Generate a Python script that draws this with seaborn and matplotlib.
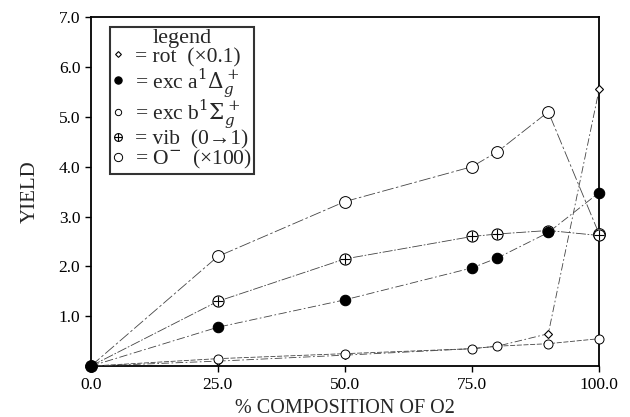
import matplotlib
matplotlib.use("Agg")
import matplotlib.pyplot as plt
import matplotlib.lines as mlines
from matplotlib.legend_handler import HandlerTuple
import seaborn as sns
import pandas as pd

composition = [0, 25, 50, 75, 80, 90, 100]
rot = [0, 0.10, 0.22, 0.35, 0.40, 0.65, 5.55]
exc_a = [0, 0.78, 1.33, 1.97, 2.17, 2.68, 3.48]
exc_b = [0, 0.15, 0.25, 0.35, 0.40, 0.45, 0.55]
vib = [0, 1.30, 2.15, 2.60, 2.65, 2.72, 2.62]
o_minus = [0, 2.20, 3.30, 4.00, 4.30, 5.10, 2.65]

labels = ["= rot  (×0.1)", r"= exc a$^1\Delta_g^+$", r"= exc b$^1\Sigma_g^+$",
          "= vib  (0→1)", r"= O$^{-}$  (×100)"]
xticks = [0, 25, 50, 75, 100]
xticklabels = ["0.0", "25.0", "50.0", "75.0", "100.0"]
yticks = [1, 2, 3, 4, 5, 6, 7]
yticklabels = ["1.0", "2.0", "3.0", "4.0", "5.0", "6.0", "7.0"]

sns.set_theme(style="ticks")
plt.rcParams["font.family"] = ["Liberation Serif", "DejaVu Serif"]
plt.rcParams["mathtext.fontset"] = "dejavuserif"

fig = plt.figure(figsize=(6.3, 4.17), dpi=100)
ax = fig.add_axes([0.144, 0.122, 0.807, 0.837])

series = [
    (rot, dict(marker="D", ms=4.2, mfc="white", mew=0.8, dashes=(9, 3, 2, 3), z=3)),
    (exc_a, dict(marker="o", ms=7.5, mfc="black", mew=0.8, dashes=(10, 3, 2, 3), z=3.5)),
    (exc_b, dict(marker="o", ms=6.5, mfc="white", mew=0.7, dashes=(6, 2), z=3)),
    (vib, dict(marker="o", ms=8, mfc="white", mew=0.8, dashes=(12, 2, 2, 2), z=3.2)),
    (o_minus, dict(marker="o", ms=8.5, mfc="white", mew=0.7, dashes=(14, 3, 3, 3), z=3)),
]

handles = []
for vals, kw in series:
    df = pd.DataFrame({"x": composition, "y": vals})
    sns.lineplot(data=df, x="x", y="y", ax=ax, color="#444444", lw=0.6,
                 markeredgecolor="black", markerfacecolor=kw["mfc"],
                 markeredgewidth=kw["mew"], markersize=kw["ms"],
                 marker=kw["marker"], dashes=kw["dashes"], zorder=kw["z"],
                 clip_on=False)
    handles.append(ax.lines[-1])

# plus inside vib circles
df_vib = pd.DataFrame({"x": composition, "y": vib})
sns.scatterplot(data=df_vib, x="x", y="y", ax=ax, marker="+", s=55,
                color="black", linewidth=0.8, zorder=4, clip_on=False)

ax.set_xlim(0, 100)
ax.set_ylim(0, 7)
ax.set_xticks(xticks)
ax.set_xticklabels(xticklabels)
ax.set_yticks(yticks)
ax.set_yticklabels(yticklabels)
ax.tick_params(direction="out", length=4, width=1, labelsize=12.5, colors="black")
for s in ax.spines.values():
    s.set_linewidth(1.3)
    s.set_color("black")
    s.set_visible(True)

ax.set_xlabel("% COMPOSITION OF O2", fontsize=14.5, labelpad=5)
ax.set_ylabel("YIELD", fontsize=15, labelpad=14)

leg_handles = []
for i, h in enumerate(handles):
    base = mlines.Line2D([], [], linestyle="none", marker=h.get_marker(),
                         markersize=h.get_markersize() * 0.7,
                         markerfacecolor=h.get_markerfacecolor(),
                         markeredgecolor="black",
                         markeredgewidth=h.get_markeredgewidth())
    if i == 3:
        plus = mlines.Line2D([], [], linestyle="none", marker="+",
                             markersize=h.get_markersize() * 0.7,
                             color="black", markeredgewidth=0.8)
        leg_handles.append((base, plus))
    else:
        leg_handles.append(base)
leg = ax.legend(leg_handles, labels, title="legend", loc="upper left",
                bbox_to_anchor=(0.037, 0.972), fontsize=15.5, title_fontsize=16,
                frameon=True, fancybox=False, edgecolor="black", handlelength=0.6,
                handletextpad=0.5, borderpad=0.1, labelspacing=-0.05, borderaxespad=0,
                handler_map={tuple: HandlerTuple(ndivide=1, pad=0)})
leg.get_frame().set_linewidth(1.5)

fig.savefig("out.png", dpi=100)
